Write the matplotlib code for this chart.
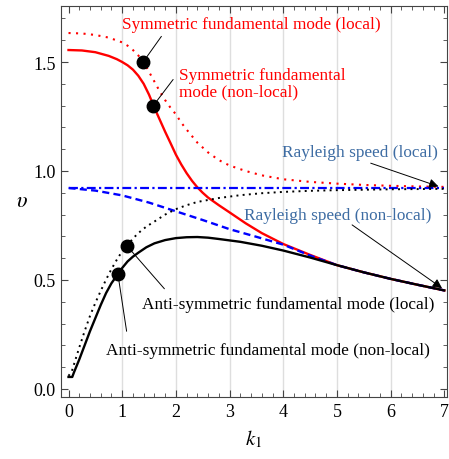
import matplotlib
matplotlib.use("Agg")
import matplotlib.pyplot as plt
from matplotlib.ticker import MultipleLocator

plt.rcParams['font.family'] = ['Liberation Serif', 'DejaVu Serif']
plt.rcParams['mathtext.fontset'] = 'stix'

# ---- data ----
k_sym_local = [0, 0.25, 0.5, 0.75, 1.0, 1.1, 1.2, 1.3, 1.4, 1.5, 1.6, 1.7, 1.8, 1.9, 2.0, 2.1, 2.2, 2.4, 2.6, 2.8, 3.0, 3.3, 3.6, 4.0, 4.5, 5.0, 5.5, 6.0, 6.5, 7.0]
v_sym_local = [1.633, 1.631, 1.624, 1.612, 1.59, 1.575, 1.555, 1.53, 1.50, 1.455, 1.41, 1.365, 1.325, 1.29, 1.26, 1.222, 1.19, 1.13, 1.085, 1.05, 1.025, 1.0, 0.98, 0.962, 0.95, 0.942, 0.936, 0.932, 0.929, 0.927]

k_sym_nonlocal = [0, 0.25, 0.5, 0.75, 0.9, 1.0, 1.1, 1.2, 1.3, 1.4, 1.5, 1.6, 1.7, 1.8, 1.9, 2.0, 2.1, 2.2, 2.3, 2.4, 2.5, 2.6, 2.8, 3.0, 3.3, 3.6, 4.0, 4.5, 5.0, 5.5, 6.0, 6.5, 7.0]
v_sym_nonlocal = [1.555, 1.553, 1.545, 1.528, 1.513, 1.50, 1.485, 1.465, 1.437, 1.40, 1.35, 1.29, 1.235, 1.18, 1.128, 1.075, 1.03, 0.99, 0.955, 0.925, 0.90, 0.878, 0.843, 0.81, 0.76, 0.715, 0.665, 0.615, 0.568, 0.535, 0.505, 0.478, 0.452]

k_anti_nonlocal = [0.0, 0.07, 0.1, 0.2, 0.3, 0.4, 0.5, 0.6, 0.7, 0.8, 0.9, 1.0, 1.1, 1.2, 1.3, 1.45, 1.6, 1.8, 2.0, 2.2, 2.4, 2.6, 2.8, 3.2, 3.6, 4.0, 4.5, 5.0, 5.5, 6.0, 6.5, 7.0]
v_anti_nonlocal = [0.055, 0.055, 0.075, 0.135, 0.2, 0.265, 0.325, 0.385, 0.44, 0.485, 0.52, 0.555, 0.585, 0.607, 0.625, 0.65, 0.668, 0.683, 0.692, 0.696, 0.697, 0.694, 0.688, 0.675, 0.657, 0.635, 0.603, 0.568, 0.535, 0.505, 0.478, 0.452]

k_anti_local = [0.0, 0.06, 0.2, 0.3, 0.4, 0.5, 0.6, 0.7, 0.8, 0.9, 1.0, 1.1, 1.2, 1.3, 1.45, 1.6, 1.8, 2.0, 2.2, 2.4, 2.8, 3.2, 3.6, 4.0, 4.5, 5.0, 5.5, 6.0, 6.5, 7.0]
v_anti_local = [0.06, 0.08, 0.19, 0.265, 0.335, 0.395, 0.45, 0.502, 0.55, 0.593, 0.632, 0.66, 0.69, 0.715, 0.745, 0.768, 0.8, 0.825, 0.843, 0.858, 0.876, 0.889, 0.898, 0.904, 0.909, 0.912, 0.914, 0.916, 0.917, 0.918]

k_ray_nonlocal = [0, 0.5, 1.0, 1.5, 2.0, 2.5, 3.0, 3.5, 4.0, 4.5, 5.0, 5.5, 6.0, 6.5, 7.0]
v_ray_nonlocal = [0.922, 0.91, 0.888, 0.855, 0.815, 0.775, 0.733, 0.698, 0.662, 0.612, 0.568, 0.535, 0.505, 0.478, 0.452]

k_ray_local = [0, 7]
v_ray_local = [0.92, 0.92]

# marker points (k, v)
pt_sym_local = (1.39, 1.50)
pt_sym_nonlocal = (1.58, 1.30)
pt_anti_local = (1.09, 0.656)
pt_anti_nonlocal = (0.92, 0.527)

x_ticks = [0, 1, 2, 3, 4, 5, 6, 7]
y_ticks = [0.0, 0.5, 1.0, 1.5]
y_tick_labels = ["0.0", "0.5", "1.0", "1.5"]
grid_x = [1, 2, 3, 4, 5, 6]

fig = plt.figure(figsize=(4.49, 4.60), dpi=100)
ax = fig.add_axes([61/449, 1-398/460, (447-61)/449, (398-7)/460])

for gx in grid_x:
    ax.axvline(gx, color='#dedede', lw=1.0, zorder=0)

ax.plot(k_sym_local, v_sym_local, color='red', lw=1.5, linestyle=(0, (1, 2.6)), zorder=3)
ax.plot(k_sym_nonlocal, v_sym_nonlocal, color='red', lw=1.7, zorder=3)
ax.plot(k_ray_local, v_ray_local, color='blue', lw=1.6, linestyle=(0, (4, 1.5, 1, 1.5)), zorder=3)
ax.plot(k_ray_nonlocal, v_ray_nonlocal, color='blue', lw=1.7, linestyle=(0, (3, 1.8)), zorder=3)
ax.plot(k_anti_local, v_anti_local, color='black', lw=1.4, linestyle=(0, (1, 2.2)), zorder=3)
ax.plot(k_anti_nonlocal, v_anti_nonlocal, color='black', lw=1.7, zorder=4)

for p in [pt_sym_local, pt_sym_nonlocal, pt_anti_local, pt_anti_nonlocal]:
    ax.plot(*p, 'o', color='black', ms=9, zorder=6)

fs = 12.4
ray_col = '#3d6ca3'
# leader lines
ax.annotate("", xy=pt_sym_local, xytext=(1.76, 1.628),
            arrowprops=dict(arrowstyle='-', color='black', lw=0.7), zorder=5)
ax.text(3.40, 1.676, "Symmetric fundamental mode (local)", color='red', fontsize=fs,
        ha='center', va='center')
ax.annotate("", xy=pt_sym_nonlocal, xytext=(1.98, 1.43),
            arrowprops=dict(arrowstyle='-', color='black', lw=0.7), zorder=5)
ax.text(2.06, 1.404, "Symmetric fundamental\nmode (non-local)", color='red', fontsize=fs,
        ha='left', va='center', linespacing=1.0)
ax.annotate("", xy=(6.94, 0.925), xytext=(5.58, 1.04),
            arrowprops=dict(arrowstyle='-|>', color='black', lw=0.7, mutation_scale=14), zorder=5)
ax.text(3.98, 1.087, "Rayleigh speed (local)", color=ray_col, fontsize=fs,
        ha='left', va='center')
ax.annotate("", xy=(7.0, 0.455), xytext=(5.24, 0.76),
            arrowprops=dict(arrowstyle='-|>', color='black', lw=0.7, mutation_scale=14), zorder=5)
ax.text(3.27, 0.80, "Rayleigh speed (non-local)", color=ray_col, fontsize=fs,
        ha='left', va='center')
ax.annotate("", xy=pt_anti_local, xytext=(1.82, 0.45),
            arrowprops=dict(arrowstyle='-', color='black', lw=0.7), zorder=5)
ax.text(1.37, 0.39, "Anti-symmetric fundamental mode (local)", color='black', fontsize=fs,
        ha='left', va='center')
ax.annotate("", xy=pt_anti_nonlocal, xytext=(1.09, 0.252),
            arrowprops=dict(arrowstyle='-', color='black', lw=0.7), zorder=5)
ax.text(0.70, 0.179, "Anti-symmetric fundamental mode (non-local)", color='black', fontsize=fs,
        ha='left', va='center')

ax.set_xlim(-0.14, 7.05)
ax.set_ylim(-0.037, 1.757)
ax.set_xticks(x_ticks)
ax.set_yticks(y_ticks)
ax.set_yticklabels(y_tick_labels)
ax.xaxis.set_minor_locator(MultipleLocator(0.2))
ax.yaxis.set_minor_locator(MultipleLocator(0.1))
ax.tick_params(which='both', direction='in', top=True, right=True, labelsize=13, color='#444444')
ax.tick_params(which='major', length=5, width=0.8, pad=4)
ax.tick_params(which='minor', length=3, width=0.6)
for s in ax.spines.values():
    s.set_color('#444444')
    s.set_linewidth(0.8)

ax.set_xlabel(r"$k_1$", fontsize=15, labelpad=6)
ax.set_ylabel(r"$\upsilon$", fontsize=16, labelpad=8, rotation=0, va='center')

fig.savefig("out.png", dpi=100)
